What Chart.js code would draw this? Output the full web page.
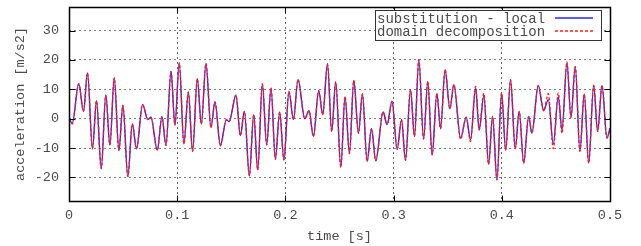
<!DOCTYPE html>
<html>
<head>
<meta charset="utf-8">
<script src="https://cdn.jsdelivr.net/npm/chart.js@4"></script>
<style>
  html, body { margin: 0; padding: 0; background: #fff; }
  #wrap { width: 641px; height: 246px; }
</style>
</head>
<body>
<div id="wrap"><canvas id="accChart" width="641" height="246"></canvas></div>
<script>
// time stamps (s) of the turning points
const times = [
    0, 0.003, 0.009, 0.0134, 0.0171, 0.0217, 0.0254, 0.0298, 0.034, 0.0378,
    0.0418, 0.0461, 0.0498, 0.0544, 0.0585, 0.0624, 0.068, 0.0729, 0.0757, 0.0816,
    0.0859, 0.0896, 0.0943, 0.0979, 0.1019, 0.1062, 0.1103, 0.1142, 0.1186, 0.1223,
    0.1266, 0.1312, 0.1349, 0.1399, 0.1454, 0.148, 0.1543, 0.1584, 0.1621, 0.1667,
    0.1707, 0.1744, 0.1787, 0.1827, 0.1867, 0.1907, 0.1947, 0.1986, 0.2033, 0.2074,
    0.2117, 0.2179, 0.2218, 0.2259, 0.2308, 0.2345, 0.2389, 0.2428, 0.2465, 0.2512,
    0.2551, 0.2592, 0.2632, 0.2675, 0.2712, 0.2755, 0.2796, 0.2835, 0.2903, 0.294,
    0.2985, 0.3033, 0.3073, 0.311, 0.3156, 0.3193, 0.3233, 0.3277, 0.3316, 0.3356,
    0.34, 0.3434, 0.3476, 0.352, 0.3557, 0.3619, 0.3671, 0.3711, 0.3758, 0.3791,
    0.3834, 0.3878, 0.3915, 0.3955, 0.3998, 0.4036, 0.4081, 0.4124, 0.4161, 0.4202,
    0.4248, 0.4278, 0.4337, 0.4387, 0.443, 0.4476, 0.4522, 0.4556, 0.4602, 0.4639,
    0.4679, 0.4722, 0.4762, 0.4803, 0.4849, 0.4886, 0.4926, 0.4972, 0.5
];

// substitution - local (m/s2)
const subLocal = [
    0, -1.5, 11.9, 2.5, 15.6, -10.2, 6.1, -17, 8, -8.9,
    13.9, -10.8, 4.5, -19.7, -1.8, -10.2, 4.8, -0.3, 0.5, -10.7,
    0.7, -9.1, 16.1, -2.2, 19, -8.6, 9.1, -11.1, 13.6, -1.8,
    18.8, -3, 5.7, -9.2, -0.3, -1.0, 8, -5.7, 2.5, -19.4,
    1.4, -17.4, 11.8, -8.9, 10.5, -13.8, 2.3, -14, 9.3, -0.3,
    13.3, 0, 2.7, -6, 9.5, 1.4, 18.6, -4.3, 12.5, -16.5,
    7.5, -11.9, 13, -4.9, 8.4, -14.5, -3.4, -14.3, 2.3, -2,
    5.9, -10.4, -0.3, -14.2, 9.9, -6, 20.1, -6.9, 12.7, -12.3,
    8.6, -3.4, 16.7, 3.4, 11.6, -6.6, 0.5, -7.2, 10.4, -3.8,
    7.8, -15.5, 0.8, -20.8, 8.7, -10.6, 13.3, -10.2, 2.5, -15.1,
    0.8, -4.9, 11.3, 2.7, 6.5, -8.6, 7.5, -3.8, 19, 0.5,
    17.7, -11.1, 8.4, -15.1, 11.3, -4.3, 11.3, -6.6, -3.2
];

// domain decomposition (m/s2)
const domainDecomp = [
    0, -1.8, 11.9, 2.5, 15.6, -10.2, 6.1, -17, 8, -8.9,
    13.9, -10.8, 4.5, -19.7, -1.8, -10.2, 4.8, -0.3, 0.5, -10.7,
    0.7, -9.1, 16.1, -2.2, 19, -8.6, 9.1, -11.1, 13.6, -1.8,
    18.8, -3, 5.7, -9.2, -0.3, -1.0, 8, -5.7, 2.5, -19.4,
    1.4, -17.4, 11.8, -8.9, 10.5, -13.8, 2.3, -14, 9.3, -0.3,
    13.3, 0, 2.7, -6, 9.5, 1.4, 18.6, -4.3, 12.5, -16.5,
    7.5, -11.9, 13, -4.9, 8.4, -14.5, -3.4, -14.3, 2.3, -2,
    5.9, -10.4, -0.3, -14.2, 9.9, -6, 20.1, -6.9, 12.7, -12.3,
    8.6, -3.4, 16.7, 3.4, 11.6, -7.0, 0.5, -7.8, 11, -3.8,
    8.7, -15.5, 0.8, -20.8, 8.7, -10.6, 13.3, -10.2, 2.5, -15.1,
    0.8, -4.9, 11.3, 2.7, 8.5, -10.2, 8.8, -5, 19.3, 0.5,
    17.7, -11.1, 8.4, -15.1, 11.3, -4.3, 11.3, -6.6, -3.2
];

const xTicks = [0, 0.1, 0.2, 0.3, 0.4, 0.5];
const yTicks = [-20, -10, 0, 10, 20, 30];
const seriesNames = ["substitution - local", "domain decomposition"];

const FONT = "'Liberation Mono', 'DejaVu Sans Mono', monospace";
const TEXT = "#4a4a4a";

// gnuplot style frame, inward ticks and the boxed key inside the plot
const framePlugin = {
    id: "frame",
    afterDatasetsDraw(chart) {
        const ctx = chart.ctx;
        const a = chart.chartArea;
        const xs = chart.scales.x, ys = chart.scales.y;
        const L = Math.round(a.left) + 0.5, R = Math.round(a.right) + 0.5;
        const T = Math.round(a.top) + 0.5, B = Math.round(a.bottom) + 0.5;
        ctx.save();
        ctx.strokeStyle = "#000";
        ctx.lineWidth = 1;
        ctx.setLineDash([]);
        ctx.beginPath();
        xTicks.forEach(v => {
            const px = Math.round(xs.getPixelForValue(v)) + 0.5;
            ctx.moveTo(px, B); ctx.lineTo(px, B - 6);
            ctx.moveTo(px, T); ctx.lineTo(px, T + 6);
        });
        yTicks.forEach(v => {
            const py = Math.round(ys.getPixelForValue(v)) + 0.5;
            ctx.moveTo(L, py); ctx.lineTo(L + 6, py);
            ctx.moveTo(R, py); ctx.lineTo(R - 6, py);
        });
        ctx.stroke();
        ctx.lineWidth = 1.5;
        ctx.strokeRect(L, T, R - L, B - T);

        // key
        const kx = 375.5, ky = 10.5, kw = 226, kh = 30;
        ctx.fillStyle = "#fff";
        ctx.fillRect(kx, ky, kw, kh);
        ctx.lineWidth = 1;
        ctx.strokeStyle = "#333";
        ctx.strokeRect(kx, ky, kw, kh);
        ctx.font = "14px " + FONT;
        ctx.fillStyle = TEXT;
        ctx.textBaseline = "middle";
        ctx.textAlign = "left";
        ctx.fillText(seriesNames[0], 377, 19);
        ctx.fillText(seriesNames[1], 377, 32);
        ctx.lineWidth = 1.3;
        ctx.strokeStyle = "#2424ff";
        ctx.beginPath(); ctx.moveTo(555, 18); ctx.lineTo(593, 18); ctx.stroke();
        ctx.strokeStyle = "#ff1a1a";
        ctx.setLineDash([3, 2]);
        ctx.beginPath(); ctx.moveTo(555, 31); ctx.lineTo(593, 31); ctx.stroke();
        ctx.restore();
    }
};

new Chart(document.getElementById("accChart"), {
    type: "line",
    data: {
        datasets: [
            {
                label: seriesNames[0],
                data: times.map((t, i) => ({ x: t, y: subLocal[i] })),
                borderColor: "#2424ff",
                borderWidth: 1.4,
                pointRadius: 0,
                cubicInterpolationMode: "monotone",
                fill: false,
                order: 1
            },
            {
                label: seriesNames[1],
                data: times.map((t, i) => ({ x: t, y: domainDecomp[i] })),
                borderColor: "#ff1a1a",
                borderWidth: 1.3,
                borderDash: [3, 2],
                pointRadius: 0,
                cubicInterpolationMode: "monotone",
                fill: false,
                order: 0
            }
        ]
    },
    options: {
        responsive: false,
        animation: false,
        layout: { padding: { left: 0, right: 31, top: 7, bottom: 0 } },
        plugins: {
            legend: { display: false },
            tooltip: { enabled: false }
        },
        scales: {
            x: {
                type: "linear",
                min: 0,
                max: 0.5,
                afterBuildTicks: s => { s.ticks = xTicks.map(v => ({ value: v })); },
                afterFit: s => { s.height = 45; s.paddingLeft = 0; s.paddingRight = 0; },
                ticks: {
                    color: TEXT,
                    font: { family: FONT, size: 13.5 },
                    padding: 6,
                    maxRotation: 0,
                    callback: v => String(+v.toFixed(1))
                },
                grid: { color: "rgba(0,0,0,0.6)", drawTicks: false },
                border: { display: false, dash: [2, 3] },
                title: {
                    display: true,
                    text: "time [s]",
                    color: TEXT,
                    font: { family: FONT, size: 13.5 },
                    padding: { top: 0, bottom: 1 }
                }
            },
            y: {
                type: "linear",
                min: -28,
                max: 38,
                afterBuildTicks: s => { s.ticks = yTicks.map(v => ({ value: v })); },
                afterFit: s => { s.width = 69; s.paddingTop = 0; s.paddingBottom = 0; },
                ticks: {
                    color: TEXT,
                    font: { family: FONT, size: 13.5 },
                    padding: 10
                },
                grid: { color: "rgba(0,0,0,0.5)", drawTicks: false },
                border: { display: false, dash: [2, 3] },
                title: {
                    display: true,
                    text: "acceleration [m/s2]",
                    color: TEXT,
                    font: { family: FONT, size: 13.5 },
                    padding: { top: 12, bottom: 0 }
                }
            }
        }
    },
    plugins: [framePlugin]
});
</script>
</body>
</html>
